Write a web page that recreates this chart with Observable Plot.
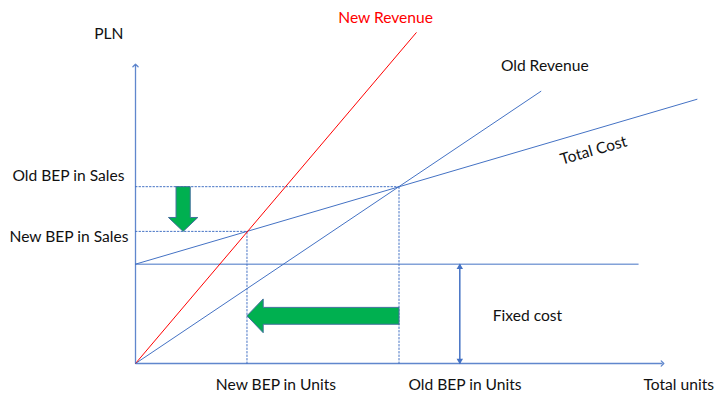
<!DOCTYPE html>
<html><head><meta charset="utf-8">
<script src="https://cdn.jsdelivr.net/npm/d3@7"></script>
<script src="https://cdn.jsdelivr.net/npm/@observablehq/plot@0.6"></script>
<style>body{margin:0;background:#fff}</style>
</head><body><div id="chart"></div>
<script>
// ---- data (units on x, PLN on y) ----
const fixedCost = 100;
const fixedCostLine = [{units: 0, pln: 100}, {units: 496, pln: 100}];
const totalCost = [{units: 0, pln: 100}, {units: 554, pln: 266}];
const oldRevenue = [{units: 0, pln: 0}, {units: 400, pln: 274}];
const newRevenue = [{units: 0, pln: 0}, {units: 277, pln: 333}];
const oldBEP = {units: 260, pln: 178};
const newBEP = {units: 110, pln: 133};
const axisMax = {units: 520, pln: 300};
const fixedCostArrowAt = 320;
// shift arrows (data units)
const downArrow = {at: 47, shaft: 7, head: 14.5, headLen: 14};
const leftArrow = {at: 48, shaft: 8.5, head: 17, headLen: 16};

const blue = "#4472C4", green = "#00B050", outline = "#41719C";
const font = "Lato, 'Open Sans', sans-serif";
const fs = 15.6;

const P = (u, p) => ({units: u, pln: p});
const d = downArrow;
const downShape = [
  P(d.at - d.shaft, oldBEP.pln), P(d.at + d.shaft, oldBEP.pln),
  P(d.at + d.shaft, newBEP.pln + d.headLen), P(d.at + d.head, newBEP.pln + d.headLen),
  P(d.at, newBEP.pln), P(d.at - d.head, newBEP.pln + d.headLen),
  P(d.at - d.shaft, newBEP.pln + d.headLen), P(d.at - d.shaft, oldBEP.pln)
];
const l = leftArrow;
const leftShape = [
  P(oldBEP.units, l.at - l.shaft), P(oldBEP.units, l.at + l.shaft),
  P(newBEP.units + l.headLen, l.at + l.shaft), P(newBEP.units + l.headLen, l.at + l.head),
  P(newBEP.units, l.at), P(newBEP.units + l.headLen, l.at - l.head),
  P(newBEP.units + l.headLen, l.at - l.shaft), P(oldBEP.units, l.at - l.shaft)
];

const guides = [
  [P(0, oldBEP.pln), P(oldBEP.units, oldBEP.pln)],
  [P(0, newBEP.pln), P(newBEP.units, newBEP.pln)],
  [P(oldBEP.units, 0), P(oldBEP.units, oldBEP.pln)],
  [P(newBEP.units, 0), P(newBEP.units, newBEP.pln)]
];

const txt = (data, o) => Plot.text(data, {x: "units", y: "pln", fontSize: fs, fontFamily: font, fill: "#111", ...o});

const chart = Plot.plot({
  width: 716, height: 393,
  marginLeft: 135, marginRight: 54, marginTop: 65, marginBottom: 30,
  x: {domain: [0, axisMax.units], axis: null},
  y: {domain: [0, axisMax.pln], axis: null},
  style: {fontFamily: font, background: "#fff"},
  marks: [
    ...guides.map(g => Plot.line(g, {x: "units", y: "pln", stroke: blue, strokeWidth: 1, strokeDasharray: "1.5,2"})),
    Plot.line(fixedCostLine, {x: "units", y: "pln", stroke: blue, strokeWidth: 1}),
    Plot.line(totalCost, {x: "units", y: "pln", stroke: blue, strokeWidth: 1}),
    Plot.line(oldRevenue, {x: "units", y: "pln", stroke: blue, strokeWidth: 1}),
    Plot.line(newRevenue, {x: "units", y: "pln", stroke: "#FF0000", strokeWidth: 1}),
    // axes
    Plot.link([{x1: 0, y1: 0, x2: 0, y2: axisMax.pln}], {x1: "x1", y1: "y1", x2: "x2", y2: "y2", stroke: blue, strokeOpacity: 0.85, strokeWidth: 1.3, markerEnd: "arrow"}),
    Plot.link([{x1: 0, y1: 0, x2: axisMax.units, y2: 0}], {x1: "x1", y1: "y1", x2: "x2", y2: "y2", stroke: blue, strokeOpacity: 0.85, strokeWidth: 1.3, markerEnd: "arrow"}),
    // fixed cost double arrow
    Plot.link([{x1: fixedCostArrowAt, y1: 0, x2: fixedCostArrowAt, y2: fixedCost}], {x1: "x1", y1: "y1", x2: "x2", y2: "y2", stroke: blue, strokeWidth: 1.5}),
    Plot.dot([P(fixedCostArrowAt, fixedCost)], {x: "units", y: "pln", symbol: "triangle", r: 2.4, fill: blue, stroke: "none", dy: 3}),
    Plot.dot([P(fixedCostArrowAt, 0)], {x: "units", y: "pln", symbol: "triangle", r: 2.4, fill: blue, stroke: "none", dy: -3, rotate: 180}),
    // green shift arrows
    Plot.line(downShape, {x: "units", y: "pln", fill: green, stroke: outline, strokeWidth: 1}),
    Plot.line(leftShape, {x: "units", y: "pln", fill: green, stroke: outline, strokeWidth: 1}),
    // labels
    txt([P(0, axisMax.pln)], {text: ["PLN"], textAnchor: "end", dx: -12, dy: -32}),
    txt([oldBEP], {text: ["Old BEP in Sales"], x: () => 0, textAnchor: "end", dx: -11, dy: -11}),
    txt([newBEP], {text: ["New BEP in Sales"], x: () => 0, textAnchor: "end", dx: -7, dy: 6}),
    txt([newBEP], {text: ["New BEP in Units"], y: () => 0, dx: 29, dy: 21}),
    txt([oldBEP], {text: ["Old BEP in Units"], y: () => 0, dx: 66, dy: 21}),
    txt([P(axisMax.units, 0)], {text: ["Total units"], textAnchor: "start", dx: -19, dy: 21}),
    txt([P(fixedCostArrowAt, fixedCost / 2)], {text: ["Fixed cost"], textAnchor: "start", dx: 33, dy: 2}),
    txt([newRevenue[1]], {text: ["New Revenue"], textAnchor: "start", dx: -78, dy: -15, fill: "#FF0000"}),
    txt([oldRevenue[1]], {text: ["Old Revenue"], textAnchor: "start", dx: -40, dy: -25}),
    txt([P(452, 100 + 0.3 * 452)], {text: ["Total Cost"], rotate: -16, dy: 21})
  ]
});
document.getElementById("chart").append(chart);
</script>
</body></html>
